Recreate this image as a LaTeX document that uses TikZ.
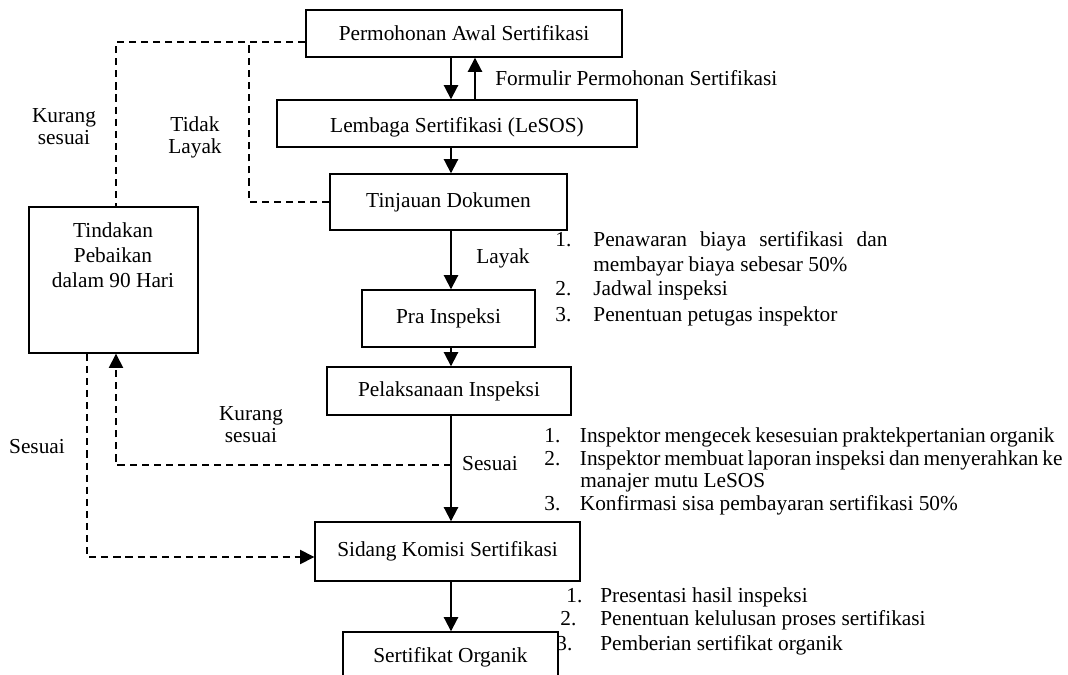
\documentclass[tikz,border=0pt]{standalone}
\usepackage{fontspec}
\setmainfont{Liberation Serif}
\usetikzlibrary{arrows.meta,calc}
\begin{document}
\begin{tikzpicture}[x=0.5625pt,y=-0.5625pt,
  every node/.style={font=\fontsize{12}{14}\selectfont},
  box/.style={draw, line width=0.8pt, inner sep=0pt},
  arr/.style={line width=1.1pt, -{Triangle[length=8pt,width=8pt]}},
  dsh/.style={line width=0.9pt, dash pattern=on 4pt off 2.8pt},
  dsharr/.style={dsh, -{Triangle[length=8pt,width=8pt]}},
  lbl/.style={inner sep=0pt},
  twol/.style={inner sep=0pt, align=center, anchor=north, font=\fontsize{12}{12.6}\selectfont},
  li/.style={inner sep=0pt, anchor=base west}]
\clip (0,0) rectangle (1068,675);
% boxes
\node[box, minimum width={316*0.5625pt}, minimum height={47*0.5625pt}] (perm) at (464,33.5) {Permohonan Awal Sertifikasi};
\node[box, minimum width={360*0.5625pt}, minimum height={47*0.5625pt}] (lemb) at (457,123.5) {};
\node[lbl, anchor=base] (lembt) at (457,132) {Lembaga Sertifikasi (LeSOS)};
\node[box, minimum width={237*0.5625pt}, minimum height={56*0.5625pt}] (tinj) at (448.5,202) {Tinjauan Dokumen};
\node[box, minimum width={169*0.5625pt}, minimum height={146*0.5625pt}] (tind) at (113.5,280) {};
\node[inner sep=0pt, align=center, anchor=north] (tindt) at (113,222.5) {Tindakan\\Pebaikan\\dalam 90 Hari};
\node[box, minimum width={173*0.5625pt}, minimum height={57*0.5625pt}] (pra) at (448.5,318.5) {Pra Inspeksi};
\node[box, minimum width={244*0.5625pt}, minimum height={48*0.5625pt}] (pel) at (449,391) {Pelaksanaan Inspeksi};
\node[box, minimum width={265*0.5625pt}, minimum height={59*0.5625pt}] (sid) at (447.5,551.5) {Sidang Komisi Sertifikasi};
\node[box, minimum width={215*0.5625pt}, minimum height={50*0.5625pt}] (sert) at (450.5,657) {Sertifikat Organik};
% helper coordinates
\coordinate (xa) at (451,0);
\coordinate (xb) at (475,0);
\coordinate (xl) at (116,0);
\coordinate (xs) at (87,0);
\coordinate (xt) at (249,0);
\coordinate (ytop) at (0,42);
\coordinate (ytin) at (0,202);
\coordinate (yk) at (0,465);
\coordinate (ysid) at (0,557);
% solid connectors
\draw[arr] (perm.south -| xa) -- (lemb.north -| xa);
\draw[arr] (lemb.north -| xb) -- (perm.south -| xb);
\draw[arr] (lemb.south -| xa) -- (tinj.north -| xa);
\draw[arr] (tinj.south -| xa) -- (pra.north -| xa);
\draw[arr] (pra.south -| xa) -- (pel.north -| xa);
\draw[arr] (pel.south -| xa) -- (sid.north -| xa);
\draw[arr] (sid.south -| xa) -- (sert.north -| xa);
% dashed connectors
\draw[dsh] (perm.west |- ytop) -| (tind.north -| xl);
\draw[dsh] (tinj.west |- ytin) -| (xt |- ytop);
\draw[dsharr] (xa |- yk) -| (tind.south -| xl);
\draw[dsharr] (tind.south -| xs) |- (sid.west |- ysid);
% labels
\node[li] (form) at (495,85) {Formulir Permohonan Sertifikasi};
\node[twol] (ks1) at (64,108) {Kurang\\sesuai};
\node[twol] (tl) at (195,116) {Tidak\\Layak};
\node[lbl, anchor=base] (lay) at (503,263) {Layak};
\node[twol] (ks2) at (251,406) {Kurang\\sesuai};
\node[lbl, anchor=base] (ses1) at (37,453) {Sesuai};
\node[lbl, anchor=base] (ses2) at (490,470) {Sesuai};
% list A
\node[li] (la1) at (555,246) {\makebox[21.4pt][l]{1.}\makebox[165.4pt][s]{Penawaran biaya sertifikasi dan}};
\node[li] (la1b) at (593,271) {membayar biaya sebesar 50\%};
\node[li] (la2) at (555,295) {\makebox[21.4pt][l]{2.}Jadwal inspeksi};
\node[li] (la3) at (555,321) {\makebox[21.4pt][l]{3.}Penentuan petugas inspektor};
% list B
\node[li] (lb1) at (544,442) {\makebox[20pt][l]{1.}\makebox[267pt][s]{Inspektor mengecek kesesuian praktekpertanian organik}};
\node[li] (lb2) at (544,465) {\makebox[20pt][l]{2.}\makebox[271.5pt][s]{Inspektor membuat laporan inspeksi dan menyerahkan ke}};
\node[li] (lb2b) at (580,487) {manajer mutu LeSOS};
\node[li] (lb3) at (544,510) {\makebox[20pt][l]{3.}Konfirmasi sisa pembayaran sertifikasi 50\%};
% list C
\node[li] (lc1) at (566,602) {\makebox[19.1pt][l]{1.}Presentasi hasil inspeksi};
\node[li] (lc2) at (560,625) {\makebox[22.5pt][l]{2.}Penentuan kelulusan proses sertifikasi};
\node[li] (lc3) at (556,650) {\makebox[24.75pt][l]{3.}Pemberian sertifikat organik};
\end{tikzpicture}
\end{document}
